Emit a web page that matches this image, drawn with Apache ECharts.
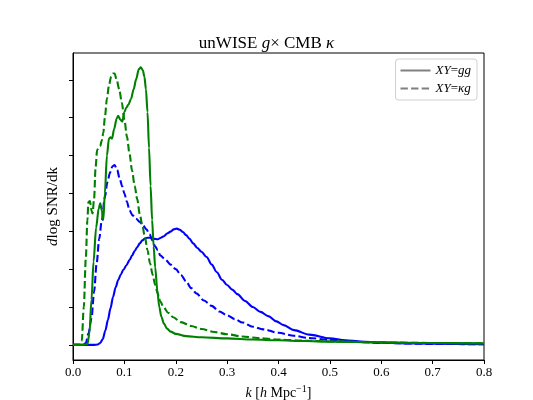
<!DOCTYPE html>
<html>
<head>
<meta charset="utf-8">
<script src="https://cdn.jsdelivr.net/npm/echarts@6/dist/echarts.min.js"></script>
<style>
  html, body { margin: 0; padding: 0; background: #fff; }
  #chart { width: 533px; height: 400px; }
</style>
</head>
<body>
<div id="chart"></div>
<script>
// d log SNR / dk as a function of k, for the green and blue unWISE samples.
// Each curve is a list of [k, value] pairs.
const xTicks = [0, 0.1, 0.2, 0.3, 0.4, 0.5, 0.6, 0.7, 0.8];
const yTicks = [0, 1, 2, 3, 4, 5, 6, 7];

const greenGG = [
  [0,0],[0.02,0],[0.028,0.02],[0.032,0.3],[0.036,1.2],[0.04,2.2],[0.045,3.1],[0.05,3.6],
  [0.053,3.74],[0.056,3.55],[0.059,3.3],[0.062,4.0],[0.066,5.0],[0.07,5.45],[0.073,5.48],
  [0.076,5.45],[0.08,5.7],[0.085,5.98],[0.088,6.05],[0.092,5.95],[0.096,5.9],[0.1,6.15],
  [0.104,6.27],[0.108,6.35],[0.113,6.5],[0.118,6.75],[0.123,7.02],[0.128,7.28],[0.132,7.33],
  [0.136,7.25],[0.139,7.08],[0.142,6.75],[0.145,6.15],[0.148,5.2],[0.151,4.2],[0.154,3.3],
  [0.157,2.6],[0.16,2.05],[0.164,1.45],[0.168,1.0],[0.172,0.74],[0.177,0.56],[0.183,0.43],
  [0.19,0.35],[0.2,0.29],[0.22,0.23],[0.25,0.2],[0.3,0.17],[0.35,0.14],[0.4,0.12],[0.45,0.1],
  [0.5,0.085],[0.6,0.065],[0.7,0.05],[0.8,0.04]
];

const greenKG = [
  [0,0],[0.012,0],[0.017,0.1],[0.021,1.0],[0.025,2.3],[0.028,3.3],[0.03,3.77],[0.033,3.8],
  [0.036,3.55],[0.038,3.47],[0.041,3.85],[0.044,4.7],[0.047,5.15],[0.05,5.2],[0.053,5.25],
  [0.056,5.4],[0.059,5.6],[0.062,6.0],[0.066,6.5],[0.07,6.85],[0.074,7.08],[0.078,7.17],
  [0.081,7.17],[0.085,7.0],[0.09,6.75],[0.095,6.4],[0.1,5.95],[0.105,5.5],[0.11,5.05],
  [0.115,4.6],[0.12,4.2],[0.125,3.85],[0.13,3.45],[0.135,3.15],[0.14,2.85],[0.145,2.5],
  [0.15,2.15],[0.155,1.85],[0.16,1.58],[0.165,1.35],[0.17,1.15],[0.176,1.0],[0.185,0.85],
  [0.195,0.73],[0.21,0.6],[0.23,0.5],[0.25,0.42],[0.275,0.34],[0.3,0.28],[0.33,0.22],
  [0.36,0.18],[0.4,0.14],[0.45,0.11],[0.5,0.09],[0.6,0.065],[0.7,0.05],[0.8,0.04]
];

const blueGG = [
  [0,0],[0.04,0],[0.048,0.01],[0.053,0.05],[0.058,0.15],[0.063,0.38],[0.068,0.66],
  [0.073,0.97],[0.078,1.27],[0.083,1.52],[0.088,1.71],[0.093,1.86],[0.098,1.98],[0.104,2.1],
  [0.11,2.24],[0.115,2.36],[0.12,2.48],[0.125,2.58],[0.13,2.68],[0.135,2.76],[0.14,2.81],
  [0.146,2.83],[0.152,2.83],[0.158,2.8],[0.165,2.79],[0.171,2.83],[0.177,2.87],[0.183,2.94],
  [0.19,2.99],[0.196,3.05],[0.202,3.07],[0.208,3.04],[0.214,2.98],[0.22,2.9],[0.227,2.8],
  [0.234,2.68],[0.242,2.56],[0.25,2.46],[0.26,2.32],[0.27,2.12],[0.28,1.92],[0.29,1.72],
  [0.3,1.58],[0.31,1.46],[0.32,1.34],[0.335,1.16],[0.35,1.0],[0.365,0.87],[0.38,0.76],
  [0.396,0.62],[0.41,0.52],[0.43,0.39],[0.46,0.27],[0.5,0.17],[0.53,0.12],[0.56,0.09],
  [0.6,0.06],[0.65,0.04],[0.7,0.03],[0.8,0.02]
];

const blueKG = [
  [0,0],[0.02,0],[0.025,0.05],[0.03,0.3],[0.036,0.7],[0.041,1.4],[0.046,2.15],[0.051,2.8],
  [0.056,3.29],[0.062,3.9],[0.067,4.3],[0.072,4.55],[0.077,4.72],[0.081,4.75],[0.086,4.62],
  [0.091,4.38],[0.096,4.18],[0.1,4.0],[0.105,3.78],[0.11,3.55],[0.116,3.42],[0.123,3.33],
  [0.13,3.25],[0.136,3.16],[0.143,3.05],[0.149,2.92],[0.155,2.75],[0.16,2.6],[0.165,2.5],
  [0.17,2.36],[0.18,2.25],[0.19,2.12],[0.2,2.0],[0.21,1.85],[0.22,1.68],[0.23,1.5],
  [0.24,1.36],[0.255,1.17],[0.27,1.03],[0.285,0.88],[0.3,0.78],[0.315,0.68],[0.33,0.59],
  [0.35,0.48],[0.37,0.41],[0.4,0.32],[0.43,0.24],[0.46,0.18],[0.5,0.13],[0.55,0.08],
  [0.6,0.05],[0.7,0.025],[0.8,0.015]
];

const SERIF = '"Liberation Serif", "DejaVu Serif", serif';
const GREEN = '#008000';
const BLUE = '#0000ff';
const DASH = [7.4, 3.2];

function curve(name, data, color, dashed) {
  return {
    name: name,
    type: 'line',
    data: data,
    showSymbol: false,
    symbol: 'none',
    smooth: 0.3,
    smoothMonotone: 'x',
    silent: true,
    legendHoverLink: false,
    lineStyle: { color: color, width: 2.1, type: dashed ? DASH : 'solid', cap: 'butt' },
    z: 3
  };
}

const chart = echarts.init(document.getElementById('chart'), null, { renderer: 'canvas' });

chart.setOption({
  animation: false,
  backgroundColor: '#fff',
  title: {
    text: '{n|unWISE }{i|g}{n|× CMB }{i|κ}',
    left: 'center',
    top: 30,
    textStyle: {
      fontWeight: 'normal',
      rich: {
        n: { fontFamily: SERIF, fontSize: 17, fontWeight: 'normal', color: '#000' },
        i: { fontFamily: SERIF, fontSize: 17, fontWeight: 'normal', fontStyle: 'italic', color: '#000' }
      }
    }
  },
  legend: {
    data: ['XY=gg', 'XY=κg'],
    orient: 'vertical',
    right: 56,
    top: 59,
    padding: [5, 6, 5, 4],
    itemGap: 5,
    itemWidth: 30,
    itemHeight: 14,
    backgroundColor: '#fff',
    borderColor: '#d0d0d0',
    borderWidth: 1,
    borderRadius: 3,
    selectedMode: false,
    itemStyle: { opacity: 0 },
    lineStyle: { width: 2, color: '#808080' },
    formatter: function (name) {
      return name === 'XY=gg' ? '{i|XY}{n|=}{i|gg}' : '{i|XY}{n|=}{i|κg}';
    },
    textStyle: {
      rich: {
        n: { fontFamily: SERIF, fontSize: 13, color: '#000' },
        i: { fontFamily: SERIF, fontSize: 13, fontStyle: 'italic', color: '#000' }
      }
    }
  },
  grid: {
    left: 73, right: 49, top: 53, bottom: 40,
    outerBoundsMode: 'none',
    containLabel: false,
    show: true, borderColor: '#000', borderWidth: 1, backgroundColor: 'transparent'
  },
  xAxis: {
    type: 'value',
    min: 0,
    max: 0.8,
    interval: 0.1,
    name: '{i|k}{n| [}{i|h}{n| Mpc}{s|−1}{n|]}',
    nameLocation: 'middle',
    nameGap: 21,
    nameTextStyle: {
      rich: {
        n: { fontFamily: SERIF, fontSize: 14, color: '#000' },
        i: { fontFamily: SERIF, fontSize: 14, fontStyle: 'italic', color: '#000' },
        s: { fontFamily: SERIF, fontSize: 10, color: '#000', padding: [0, 0, 8, 0] }
      }
    },
    axisLine: { show: true, onZero: false, lineStyle: { color: '#000', width: 1 } },
    axisTick: { show: true, length: 4, lineStyle: { color: '#000', width: 1 } },
    axisLabel: {
      margin: 6,
      fontFamily: SERIF,
      fontSize: 13,
      color: '#000',
      formatter: function (v) { return v.toFixed(1); }
    },
    splitLine: { show: false }
  },
  yAxis: {
    type: 'value',
    min: -0.4,
    max: 7.71,
    name: '{i|d}{n|log SNR/dk}',
    nameLocation: 'middle',
    nameRotate: 90,
    nameGap: 12,
    nameTextStyle: {
      rich: {
        n: { fontFamily: SERIF, fontSize: 15, color: '#000' },
        i: { fontFamily: SERIF, fontSize: 15, fontStyle: 'italic', color: '#000' }
      }
    },
    axisLine: { show: true, onZero: false, lineStyle: { color: '#000', width: 1 } },
    axisTick: { show: true, length: 4, customValues: yTicks, lineStyle: { color: '#000', width: 1 } },
    axisLabel: { show: false },
    splitLine: { show: false }
  },
  series: [
    curve('blue gg', blueGG, BLUE, false),
    curve('blue κg', blueKG, BLUE, true),
    curve('green gg', greenGG, GREEN, false),
    curve('green κg', greenKG, GREEN, true),
    {
      name: 'XY=gg', type: 'line', data: [], symbol: 'none',
      itemStyle: { color: '#808080' },
      lineStyle: { color: '#808080', width: 2, type: 'solid' }
    },
    {
      name: 'XY=κg', type: 'line', data: [], symbol: 'none',
      itemStyle: { color: '#808080' },
      lineStyle: { color: '#808080', width: 2, type: DASH }
    }
  ]
});
</script>
</body>
</html>
